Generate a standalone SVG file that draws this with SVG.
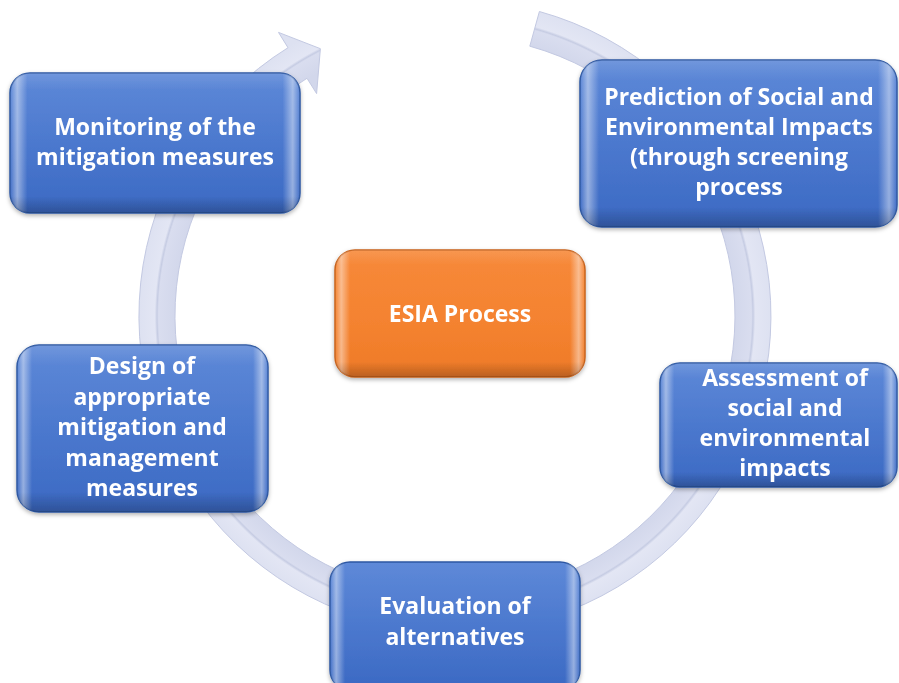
<svg xmlns="http://www.w3.org/2000/svg" width="899" height="683" viewBox="0 0 899 683">
  <defs>
    <radialGradient id="ringG" gradientUnits="userSpaceOnUse" cx="455" cy="316" r="317">
      <stop offset="0.88" stop-color="#d2d7eb"/>
      <stop offset="0.935" stop-color="#d9ddef"/>
      <stop offset="0.94" stop-color="#c6cce3"/>
      <stop offset="0.947" stop-color="#e3e6f4"/>
      <stop offset="1" stop-color="#dde1f1"/>
    </radialGradient>
    <linearGradient id="blueG" x1="0" y1="0" x2="0" y2="1">
      <stop offset="0" stop-color="#5e89d8"/>
      <stop offset="0.55" stop-color="#4a77cd"/>
      <stop offset="1" stop-color="#3b69c3"/>
    </linearGradient>
    <linearGradient id="orangeG" x1="0" y1="0" x2="0" y2="1">
      <stop offset="0" stop-color="#f7893a"/>
      <stop offset="0.6" stop-color="#f4822f"/>
      <stop offset="1" stop-color="#ee7a28"/>
    </linearGradient>
    <linearGradient id="sideHl" x1="0" y1="0" x2="1" y2="0">
      <stop offset="0" stop-color="#ffffff" stop-opacity="0"/>
      <stop offset="0.025" stop-color="#ffffff" stop-opacity="0.45"/>
      <stop offset="0.06" stop-color="#ffffff" stop-opacity="0"/>
      <stop offset="0.94" stop-color="#ffffff" stop-opacity="0"/>
      <stop offset="0.975" stop-color="#ffffff" stop-opacity="0.45"/>
      <stop offset="1" stop-color="#ffffff" stop-opacity="0"/>
    </linearGradient>
    <linearGradient id="bottomSh" x1="0" y1="0" x2="0" y2="1">
      <stop offset="0" stop-color="#ffffff" stop-opacity="0.12"/>
      <stop offset="0.12" stop-color="#ffffff" stop-opacity="0"/>
      <stop offset="0.88" stop-color="#000000" stop-opacity="0"/>
      <stop offset="1" stop-color="#000000" stop-opacity="0.22"/>
    </linearGradient>
    <filter id="sh" x="-10%" y="-10%" width="120%" height="130%">
      <feDropShadow dx="0" dy="2" stdDeviation="2" flood-color="#000" flood-opacity="0.3"/>
    </filter>
  </defs>
  <style>
    .blue { fill: url(#blueG); stroke: #2c57a3; stroke-width: 1.5; }
    .orange { fill: url(#orangeG); stroke: #c7611a; stroke-width: 1.5; }
    .hl { fill: url(#sideHl); }
    .bs { fill: url(#bottomSh); }
    .t { font-family: "Open Sans", "Liberation Sans", sans-serif; font-weight: bold; font-size: 23px; fill: #ffffff; text-anchor: middle; }
  </style>
  <rect width="899" height="683" fill="#ffffff"/>

  <g id="connectors">
    <path d="M 539.4 11.5 A 316 316 0 1 1 288.0 47.7 L 278.5 32.4 L 320.4 48.7 L 316.6 93.6 L 307.0 78.3 A 280 280 0 1 0 529.8 46.2 Z" fill="url(#ringG)" stroke="#c3c9e2" stroke-width="1"/>
  </g>

  <g id="monitoring" filter="url(#sh)">
    <rect class="blue" x="10" y="73" width="290" height="140" rx="20"/>
    <rect class="hl" x="10" y="73" width="290" height="140" rx="20"/>
    <rect class="bs" x="10" y="73" width="290" height="140" rx="20"/>
    <text class="t" x="155" y="135">Monitoring of the</text>
    <text class="t" x="155" y="165">mitigation measures</text>
  </g>

  <g id="prediction" filter="url(#sh)">
    <rect class="blue" x="580" y="60" width="317" height="167" rx="22"/>
    <rect class="hl" x="580" y="60" width="317" height="167" rx="22"/>
    <rect class="bs" x="580" y="60" width="317" height="167" rx="22"/>
    <text class="t" x="739" y="105">Prediction of Social and</text>
    <text class="t" x="739" y="135">Environmental Impacts</text>
    <text class="t" x="739" y="165">(through screening</text>
    <text class="t" x="739" y="195">process</text>
  </g>

  <g id="esia" filter="url(#sh)">
    <rect class="orange" x="335" y="250" width="250" height="127" rx="20"/>
    <rect class="hl" x="335" y="250" width="250" height="127" rx="20"/>
    <rect class="bs" x="335" y="250" width="250" height="127" rx="20"/>
    <text class="t" x="460" y="322">ESIA Process</text>
  </g>

  <g id="assessment" filter="url(#sh)">
    <rect class="blue" x="660" y="363" width="237" height="124" rx="20"/>
    <rect class="hl" x="660" y="363" width="237" height="124" rx="20"/>
    <rect class="bs" x="660" y="363" width="237" height="124" rx="20"/>
    <text class="t" x="785" y="386">Assessment of</text>
    <text class="t" x="785" y="416">social and</text>
    <text class="t" x="785" y="446">environmental</text>
    <text class="t" x="785" y="476">impacts</text>
  </g>

  <g id="evaluation" filter="url(#sh)">
    <rect class="blue" x="330" y="562" width="250" height="128" rx="20"/>
    <rect class="hl" x="330" y="562" width="250" height="128" rx="20"/>
    <text class="t" x="455" y="614">Evaluation of</text>
    <text class="t" x="455" y="645">alternatives</text>
  </g>

  <g id="design" filter="url(#sh)">
    <rect class="blue" x="17" y="345" width="251" height="167" rx="22"/>
    <rect class="hl" x="17" y="345" width="251" height="167" rx="22"/>
    <rect class="bs" x="17" y="345" width="251" height="167" rx="22"/>
    <text class="t" x="142" y="374">Design of</text>
    <text class="t" x="142" y="405">appropriate</text>
    <text class="t" x="142" y="435">mitigation and</text>
    <text class="t" x="142" y="466">management</text>
    <text class="t" x="142" y="496">measures</text>
  </g>
</svg>
